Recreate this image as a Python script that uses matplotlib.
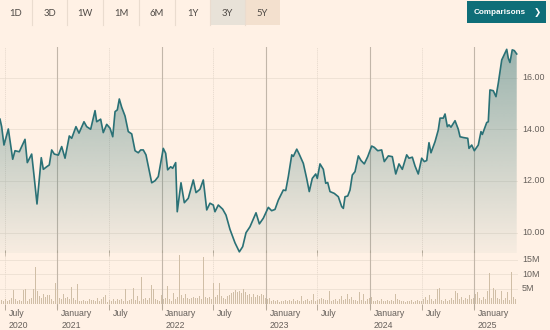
import numpy as np
import matplotlib
matplotlib.use("Agg")
import matplotlib.pyplot as plt
from matplotlib.patches import Rectangle

# --- share price: time as decimal year, close price ---
price_t = [
    2020.450, 2020.466, 2020.488, 2020.530, 2020.572, 2020.594, 2020.635, 2020.690,
    2020.712, 2020.754, 2020.776, 2020.805, 2020.846, 2020.866, 2020.898, 2020.923,
    2020.946, 2020.971, 2021.010, 2021.042, 2021.074, 2021.115, 2021.138, 2021.179,
    2021.208, 2021.256, 2021.282, 2021.320, 2021.362, 2021.378, 2021.416, 2021.441,
    2021.474, 2021.506, 2021.532, 2021.554, 2021.576, 2021.595, 2021.618, 2021.650,
    2021.681, 2021.714, 2021.746, 2021.777, 2021.800, 2021.825, 2021.851, 2021.906,
    2021.938, 2021.969, 2022.017, 2022.040, 2022.059, 2022.088, 2022.107, 2022.136,
    2022.151, 2022.187, 2022.219, 2022.257, 2022.305, 2022.331, 2022.369, 2022.401,
    2022.434, 2022.465, 2022.497, 2022.513, 2022.545, 2022.587, 2022.619, 2022.657,
    2022.705, 2022.747, 2022.779, 2022.811, 2022.849, 2022.907, 2022.939, 2022.977,
    2023.025, 2023.057, 2023.089, 2023.121, 2023.169, 2023.192, 2023.217, 2023.250,
    2023.265, 2023.298, 2023.320, 2023.361, 2023.393, 2023.418, 2023.447, 2023.480,
    2023.495, 2023.521, 2023.553, 2023.576, 2023.595, 2023.617, 2023.658, 2023.697,
    2023.729, 2023.745, 2023.761, 2023.787, 2023.809, 2023.831, 2023.857, 2023.889,
    2023.915, 2023.946, 2023.979, 2024.017, 2024.042, 2024.075, 2024.113, 2024.138,
    2024.177, 2024.215, 2024.248, 2024.279, 2024.311, 2024.353, 2024.375, 2024.407,
    2024.433, 2024.464, 2024.497, 2024.522, 2024.545, 2024.567, 2024.586, 2024.625,
    2024.656, 2024.673, 2024.704, 2024.721, 2024.743, 2024.759, 2024.778, 2024.817,
    2024.848, 2024.865, 2024.896, 2024.939, 2024.951, 2024.977, 2025.002, 2025.040,
    2025.066, 2025.079, 2025.121, 2025.136, 2025.152, 2025.184, 2025.210, 2025.232,
    2025.265, 2025.313, 2025.328, 2025.344, 2025.366, 2025.386, 2025.409,
]
price = [
    14.39, 14.10, 13.39, 14.01, 12.84, 13.17, 13.13, 13.61,
    12.71, 13.04, 12.23, 11.11, 12.90, 12.45, 12.55, 12.62,
    13.20, 13.04, 13.00, 13.33, 12.88, 13.74, 13.65, 14.10,
    13.85, 14.29, 14.10, 14.00, 14.72, 14.29, 14.39, 13.87,
    14.19, 14.04, 13.71, 14.68, 14.75, 15.17, 14.85, 14.51,
    13.91, 13.82, 13.17, 13.09, 13.20, 13.20, 13.01, 11.93,
    12.01, 12.17, 13.26, 13.07, 12.43, 12.55, 12.49, 12.71,
    10.81, 11.93, 11.16, 11.33, 12.04, 11.55, 11.68, 12.04,
    10.88, 11.14, 11.07, 10.81, 11.07, 10.91, 10.68, 10.13,
    9.61, 9.26, 9.46, 10.00, 10.23, 10.77, 10.34, 10.56,
    10.98, 10.85, 10.90, 11.26, 11.65, 11.63, 12.17, 13.01,
    12.95, 13.23, 13.05, 12.68, 12.10, 11.59, 12.10, 12.27,
    12.10, 12.66, 12.45, 11.91, 11.94, 11.59, 11.52, 11.39,
    11.01, 10.94, 11.39, 11.42, 11.65, 12.23, 12.36, 12.97,
    12.79, 12.66, 12.94, 13.35, 13.30, 13.17, 13.20, 12.75,
    12.97, 12.94, 12.27, 12.66, 12.45, 13.01, 12.88, 12.92,
    12.58, 12.27, 12.88, 12.75, 12.79, 13.48, 13.09, 13.52,
    13.97, 14.43, 14.43, 14.59, 14.10, 14.17, 14.08, 14.33,
    14.00, 13.71, 13.68, 13.65, 13.26, 13.39, 13.17, 13.39,
    13.91, 13.80, 14.26, 14.29, 15.52, 15.49, 15.26, 15.78,
    16.68, 17.09, 16.75, 16.58, 17.07, 17.04, 16.91,
]

# --- weekly traded volume, millions of shares ---
volume_start = 2020.45
volume = [
    1.0, 1.2, 0.9, 1.4, 0.8, 1.1, 2.0, 4.6, 1.5, 0.9, 1.2, 0.8, 4.7, 5.0, 1.0, 1.5,
    2.0, 5.0, 12.7, 4.4, 2.5, 2.0, 3.2, 2.4, 3.0, 2.8, 1.6, 1.0, 7.0, 5.0, 2.0, 1.6,
    3.2, 1.9, 2.2, 1.5, 5.8, 2.0, 1.2, 6.6, 1.0, 0.8, 1.2, 1.0, 0.9, 1.5, 1.1, 1.3,
    0.7, 1.8, 1.0, 1.4, 2.2, 2.9, 0.6, 1.2, 1.0, 1.6, 0.8, 1.5, 1.2, 1.4, 1.0, 4.9,
    0.7, 1.1, 1.5, 5.5, 1.2, 2.6, 1.0, 9.0, 1.6, 2.0, 1.2, 1.8, 6.3, 4.9, 1.5, 1.2,
    0.8, 2.9, 1.5, 2.0, 6.2, 1.4, 1.0, 3.7, 1.5, 2.2, 16.7, 3.0, 1.8, 3.4, 2.0, 1.7,
    1.9, 2.1, 1.8, 2.0, 2.5, 1.6, 15.9, 2.3, 2.0, 2.4, 1.5, 7.0, 2.2, 3.0, 7.0, 2.5,
    2.0, 1.6, 2.6, 3.0, 3.5, 3.8, 4.5, 4.0, 4.2, 3.5, 5.1, 3.9, 2.8, 3.2, 2.4, 3.3,
    2.2, 3.0, 2.6, 3.4, 2.9, 2.0, 1.4, 1.8, 1.0, 1.3, 0.8, 1.2, 0.6, 1.0, 0.9, 1.3,
    0.7, 1.1, 1.0, 1.4, 0.9, 1.2, 1.0, 2.5, 0.8, 1.2, 1.6, 0.7, 1.3, 3.4, 0.8, 1.1,
    1.5, 1.8, 1.4, 1.1, 1.3, 4.4, 1.0, 1.2, 1.6, 1.0, 1.4, 2.6, 1.2, 1.6, 3.2, 1.5,
    2.4, 1.1, 1.3, 1.0, 3.8, 1.2, 3.4, 0.9, 1.4, 2.0, 2.3, 1.0, 0.8, 1.2, 0.9, 1.5,
    0.7, 1.0, 1.3, 0.8, 1.2, 1.0, 3.4, 1.6, 1.3, 0.8, 1.0, 0.6, 0.9, 0.7, 1.1, 0.6,
    0.8, 1.2, 0.7, 1.0, 1.5, 2.3, 1.2, 2.9, 1.4, 1.0, 1.6, 5.1, 5.2, 1.2, 0.9, 1.4,
    1.0, 1.3, 1.8, 1.1, 4.4, 3.6, 1.5, 2.3, 1.2, 1.8, 1.4, 2.9, 1.6, 1.8, 3.4, 4.0,
    1.9, 1.3, 2.3, 1.5, 4.4, 10.6, 1.8, 5.2, 4.8, 1.9, 1.5, 4.4, 1.2, 2.0, 4.0, 1.3,
    11.0, 2.2, 1.5,
]

price_ticks = [10, 12, 14, 16]
volume_ticks = [5, 10, 15]
jan_ticks = [2021.0, 2022.0, 2023.0, 2024.0, 2025.0]
jul_ticks = [2020.496, 2021.496, 2022.496, 2023.496, 2024.496]
date_labels = ["July\n2020", "January\n2021", "July", "January\n2022", "July",
               "January\n2023", "July", "January\n2024", "July", "January\n2025"]
ranges = ["1D", "3D", "1W", "1M", "6M", "1Y", "3Y", "5Y"]

BG = "#fff1e5"
LINE = "#2a7176"
FILL = "#3d7a7a"
BAR = "#d0bea6"
TEXT = "#66605b"
JAN_COL = "#c2b6a9"
JUL_COL = "#e6d9cc"
GRID = "#efe2d5"

W, H = 550, 330
fig = plt.figure(figsize=(W / 100, H / 100), dpi=100, facecolor=BG)


def box(x0, y0, x1, y1):
    # pixel box (top-left origin) -> figure fraction rect
    return [x0 / W, 1 - y1 / H, (x1 - x0) / W, (y1 - y0) / H]


ax = fig.add_axes(box(0, 47, 518, 253))
vax = fig.add_axes(box(0, 253, 518, 303.5))
xlim = (2020.450, 2020.450 + 518 / 104.2)

for a in (ax, vax):
    a.set_facecolor("none")
    a.set_xlim(*xlim)
    for s in a.spines.values():
        s.set_visible(False)
    a.set_yticks([])

ax.set_ylim(9.215, 17.18)
vax.set_ylim(0, 17.4)

# horizontal grid
for p in price_ticks:
    ax.axhline(p, color=GRID, lw=0.7, zorder=0)
    ax.text(1 + 4 / 518, p, f"{p:.2f}", transform=ax.get_yaxis_transform(),
            ha="left", va="center", fontsize=6.4, color=TEXT, family="Liberation Sans")
for v in volume_ticks:
    vax.axhline(v, color=GRID, lw=0.7, zorder=0)
    vax.text(1 + 4 / 518, v, f"{v}M", transform=vax.get_yaxis_transform(),
             ha="left", va="center", fontsize=6.4, color=TEXT, family="Liberation Sans")

# year / half-year verticals running through both panels
for t in jan_ticks:
    ax.axvline(t, color=JAN_COL, lw=0.8, zorder=1)
    vax.axvline(t, ymin=-0.09, ymax=1, color=JAN_COL, lw=0.8, zorder=1, clip_on=False)
for t in jul_ticks:
    ax.axvline(t, color=JUL_COL, lw=0.6, ls=(0, (1.5, 1)), zorder=1)
    vax.axvline(t, color=JUL_COL, lw=0.6, ls=(0, (1.5, 1)), zorder=1)

ticks = sorted(jan_ticks + jul_ticks)
for a in (ax, vax):
    a.set_xticks(ticks)
    a.set_xticklabels([])
ax.tick_params(axis="x", direction="inout", length=4, width=0.7, color="#b5a999")
vax.tick_params(axis="x", direction="out", length=4, width=0.7, color="#b5a999")

# price line with a fading fill underneath
pt = np.array(price_t)
pv = np.array(price)
ax.plot(pt, pv, color=LINE, lw=1.2, zorder=4, solid_joinstyle="round")
poly = ax.fill_between(pt, pv, 9.215, color="none", lw=0)
grad = np.linspace(0.04, 0.52, 256).reshape(-1, 1)
rgba = np.zeros((256, 1, 4))
rgba[..., :3] = matplotlib.colors.to_rgb(FILL)
rgba[..., 3] = grad
img = ax.imshow(rgba, extent=[xlim[0], xlim[1], 9.215, 17.18], origin="lower",
                aspect="auto", zorder=2, interpolation="bilinear")
img.set_clip_path(poly.get_paths()[0], transform=ax.transData)
ax.set_xlim(*xlim)
ax.set_ylim(9.215, 17.18)

# volume bars, one per week
week = 7 / 365.25
vt = volume_start + np.arange(len(volume)) * week
vax.bar(vt, volume, width=week * 0.5, color=BAR, zorder=3, lw=0)

for t, lab in zip(ticks, date_labels):
    vax.annotate(lab, xy=(t, 0), xycoords=("data", "axes fraction"),
                 xytext=(2.8, -4.0), textcoords="offset points",
                 ha="left", va="top", fontsize=6.3, color=TEXT,
                 family="Liberation Sans", linespacing=1.45)

# range selector bar
cell_left = [0, 32, 67, 103, 139, 175, 210, 245]
cell_right = cell_left[1:] + [280]
for lab, x0, x1 in zip(ranges, cell_left, cell_right):
    if lab == "3Y":
        fig.patches.append(Rectangle(box(x0, 0, x1, 25)[:2], (x1 - x0) / W, 25 / H,
                                     transform=fig.transFigure, color="#e8e2d8", lw=0))
    elif lab == "5Y":
        fig.patches.append(Rectangle(box(x0, 0, x1, 25)[:2], (x1 - x0) / W, 25 / H,
                                     transform=fig.transFigure, color="#f3e0ce", lw=0))
    fig.text((x0 + x1) / 2 / W, 1 - 13.5 / H, lab, ha="center", va="center",
             fontsize=6.8, color="#4f4a46", family="Lato")
    if x1 < 280:
        fig.lines.append(plt.Line2D([x1 / W] * 2, [1, 1 - 25 / H], transform=fig.transFigure,
                                    color="#eadccf", lw=0.8))

fig.patches.append(Rectangle(box(467, 1.5, 546, 23)[:2], 79 / W, 21.5 / H,
                             transform=fig.transFigure, color="#0f6e78", lw=0))
fig.text(500 / W, 1 - 12.5 / H, "Comparisons", ha="center", va="center",
         fontsize=5.9, color="white", fontweight="bold", family="Liberation Sans")
fig.text(537 / W, 1 - 12.5 / H, "❯", ha="center", va="center",
         fontsize=6.2, color="white", fontweight="bold", family="DejaVu Sans")

fig.savefig("out.png", dpi=100, facecolor=BG)
